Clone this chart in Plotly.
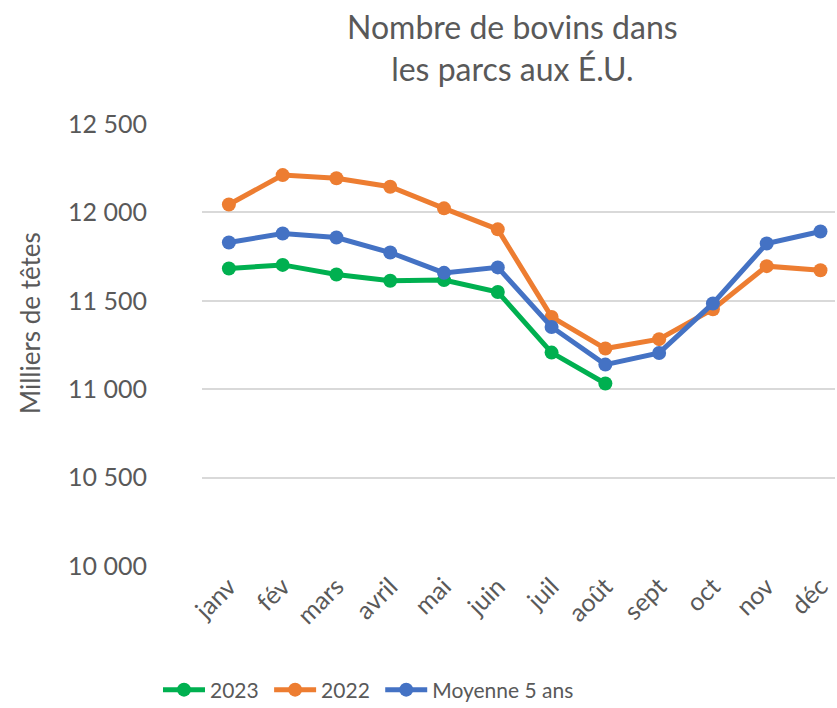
import plotly.graph_objects as go

months = ["janv", "fév", "mars", "avril", "mai", "juin", "juil", "août", "sept", "oct", "nov", "déc"]
y2023 = [11683, 11703, 11649, 11613, 11617, 11550, 11207, 11032]
y2022 = [12045, 12211, 12193, 12145, 12023, 11904, 11409, 11230, 11283, 11452, 11696, 11673]
moy5 = [11830, 11881, 11858, 11773, 11658, 11689, 11352, 11139, 11205, 11485, 11824, 11892]

series = [("2023", y2023, "#00B050"), ("2022", y2022, "#ED7D31"), ("Moyenne 5 ans", moy5, "#4472C4")]

FONT = "Lato"
GREY = "#595959"
PAD = "\u00a0"

fig = go.Figure()
for i, (name, vals, col) in enumerate(series):
    fig.add_trace(go.Scatter(
        x=months[:len(vals)], y=vals, name=name + (PAD if i < len(series) - 1 else ""),
        mode="lines+markers",
        line=dict(color=col, width=5), marker=dict(color=col, size=14),
    ))

W, H = 837, 708
L, R, T, B = 202, 2, 124, 142
pw, ph = W - L - R, H - T - B

fig.update_layout(
    width=W, height=H,
    margin=dict(l=L, r=R, t=T, b=B, autoexpand=False),
    plot_bgcolor="white", paper_bgcolor="white",
    separators=", ",
    font=dict(family=FONT, color=GREY, size=22),
    showlegend=True,
    legend=dict(orientation="h", x=(158 - L) / pw, xanchor="left",
                y=(H - B - 690) / ph, yanchor="middle",
                font=dict(size=21, color=GREY, family=FONT),
                itemwidth=42, tracegroupgap=0),
    xaxis=dict(type="category", range=[-0.5, 11.27], tickangle=-45,
               tickfont=dict(size=25, color=GREY, family=FONT),
               showgrid=False, showline=False, zeroline=False, ticks="",
               automargin=False),
    yaxis=dict(range=[10000, 12500], dtick=500, tickformat=",d",
               tickfont=dict(size=25, color=GREY, family=FONT),
               showgrid=True, gridcolor="#D9D9D9", gridwidth=1.5,
               zeroline=False, showline=False, ticks="",
               ticklabelstandoff=54, automargin=False),
    annotations=[
        dict(text="Nombre de bovins dans<br>les parcs aux É.U.", xref="paper", yref="paper",
             x=(512 - L) / pw, y=(H - B - 48) / ph, xanchor="center", yanchor="middle",
             showarrow=False, font=dict(size=32, color=GREY, family=FONT)),
        dict(text="Milliers de têtes", xref="paper", yref="paper",
             x=(30 - L) / pw, y=(H - B - 323) / ph, xanchor="center", yanchor="middle",
             textangle=-90, showarrow=False, font=dict(size=26, color=GREY, family=FONT)),
    ],
)

fig.write_html("out.html", config={"displayModeBar": False},
               post_script="document.body.style.margin='0';document.body.style.overflow='hidden';")
